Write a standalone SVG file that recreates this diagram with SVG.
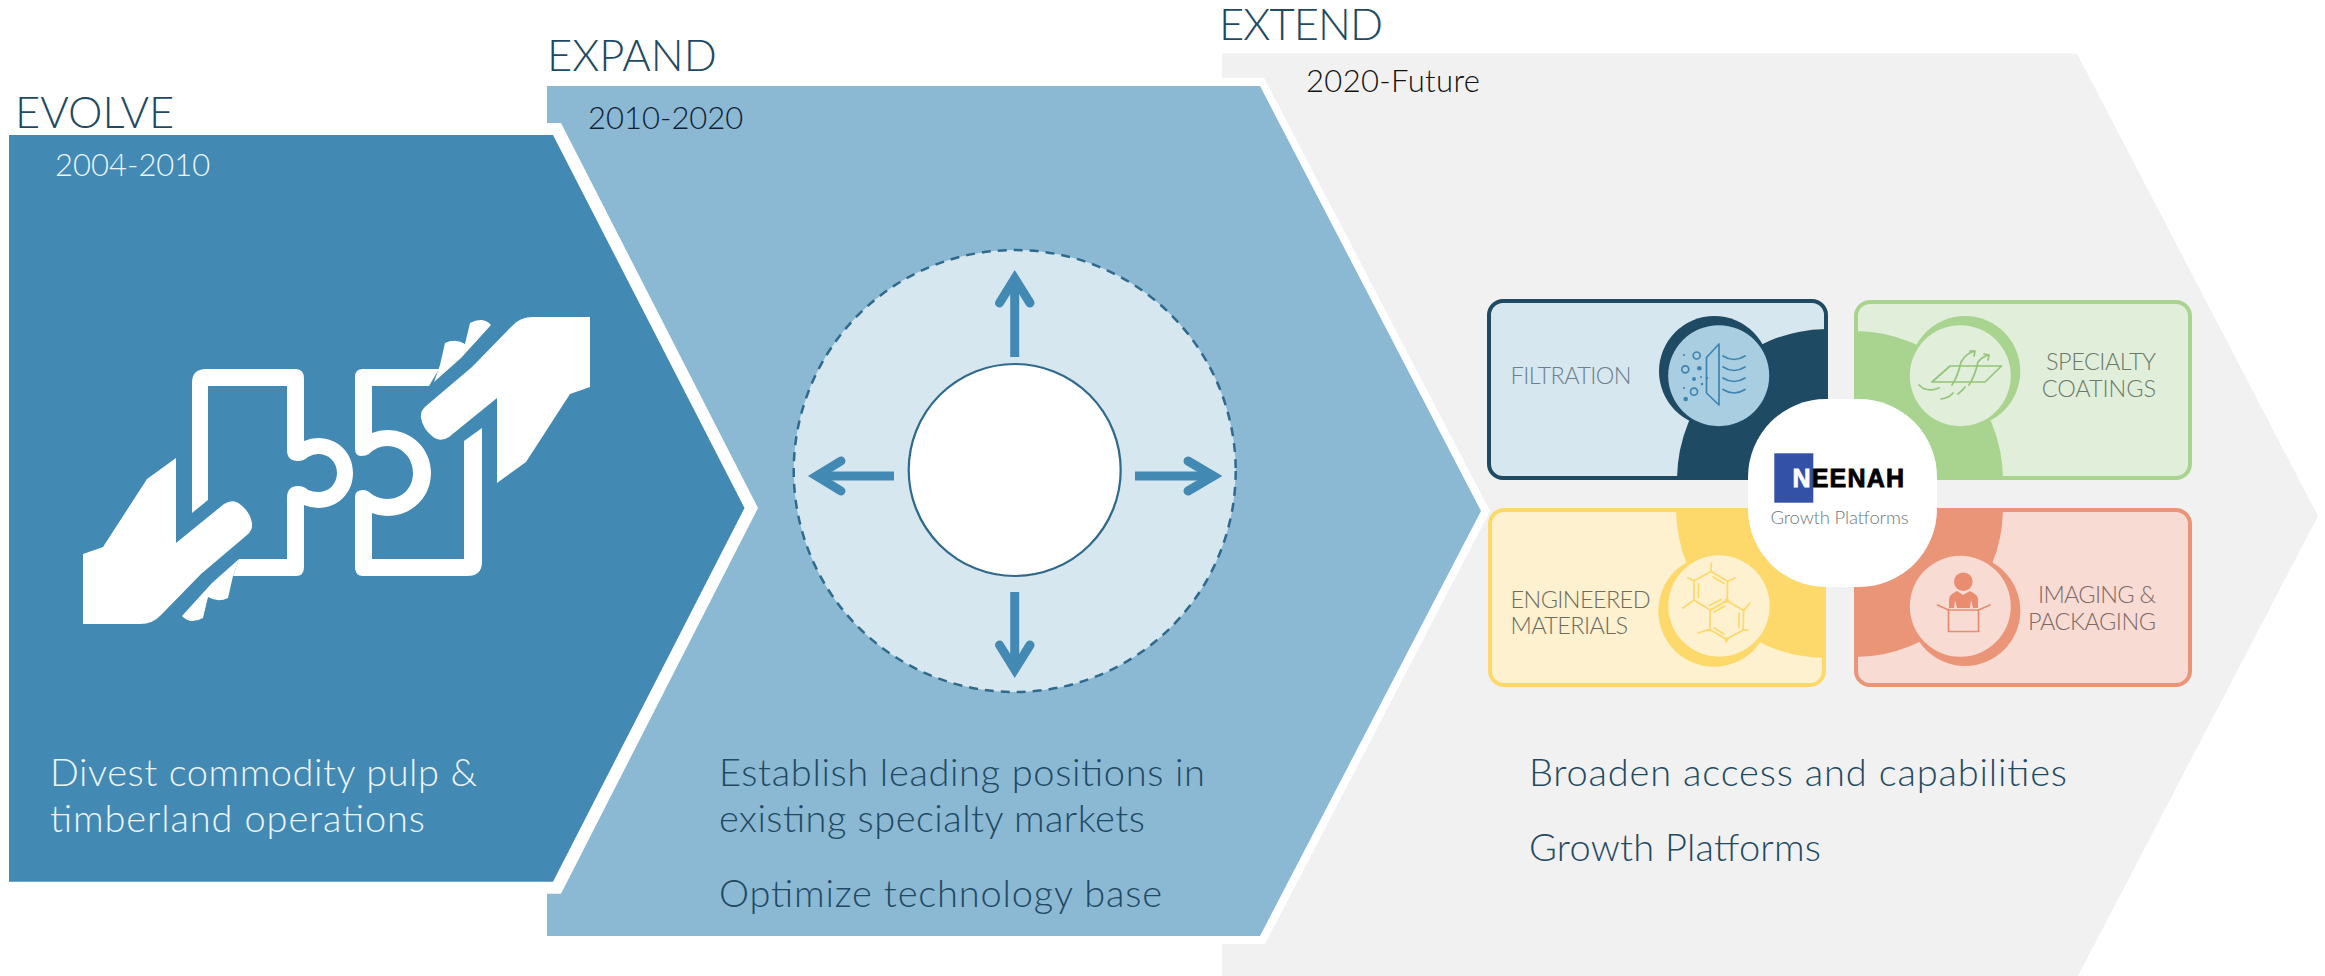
<svg xmlns="http://www.w3.org/2000/svg" xmlns:xlink="http://www.w3.org/1999/xlink" width="2325" height="976" viewBox="0 0 2325 976">
<style>
text{font-family:"Lato","Liberation Sans",sans-serif;font-weight:300}
.head{font-size:43.5px;fill:#1f4a63}
.yr{font-size:31px}
.body{font-size:38px;fill:#1f4a63}
.lab{font-size:23.5px}
.arrow{fill:none;stroke:#4289b4;stroke-width:9}
.chev{fill:none;stroke:#4289b4;stroke-width:9;stroke-linecap:round;stroke-miterlimit:6}
.ic{fill:none;stroke-width:1.7;stroke-linecap:round;stroke-linejoin:round}
</style>
<defs>
<clipPath id="cf"><rect x="1489" y="301" width="337" height="177" rx="14"/></clipPath>
<clipPath id="cs"><rect x="1856" y="302" width="334" height="176" rx="14"/></clipPath>
<clipPath id="cm"><rect x="1490" y="510" width="334" height="175" rx="14"/></clipPath>
<clipPath id="ci"><rect x="1856" y="510" width="334" height="175" rx="14"/></clipPath>
<g id="hand">
<path fill="#fff" d="M83 554L103 547L147 479L176 458V543L224 504Q233 498 241 505Q250 512 252 523Q253 530 247 535L201 574L161 615Q153 624 140 624H83Z"/>
<path fill="#fff" d="M182 616L212 583L239 559L233 576L228 598Q218 603 208 597L203 618Q190 625 182 616Z"/>
</g>
</defs>
<rect width="2325" height="976" fill="#fff"/>

<g id="extend">
<polygon points="1222,53.5 2077,53.5 2318,516 2078,976 1222,976" fill="#f1f1f1"/>
<text class="head" x="1219" y="40" textLength="164">EXTEND</text>
<text class="yr" x="1306" y="92" fill="#111" textLength="174">2020-Future</text>
<text class="body" x="1529" y="786" textLength="538">Broaden access and capabilities</text>
<text class="body" x="1529" y="861" textLength="292">Growth Platforms</text>
</g>

<g id="expand">
<polygon points="1222,77.7 1264,77.7 1490,511 1265,944 1222,944" fill="#fff"/>
<polygon points="547,86 1260,86 1481,511 1260,936 547,936" fill="#8bb8d3"/>
<text class="head" x="547" y="71">EXPAND</text>
<text class="yr" x="588" y="129" fill="#0f2233">2010-2020</text>
<text class="body" x="719" y="786" textLength="486">Establish leading positions in</text>
<text class="body" x="719" y="832" textLength="426">existing specialty markets</text>
<text class="body" x="719" y="907" textLength="443">Optimize technology base</text>
</g>

<g id="evolve">
<polygon points="540,123 561,123 758,508 561,893.7 540,893.7" fill="#fff"/>
<polygon points="9,135 553,135 744.5,508 553,881.7 9,881.7" fill="#4289b4"/>
<text class="head" x="15" y="128">EVOLVE</text>
<text class="yr" x="55" y="176" fill="#eef5f9">2004-2010</text>
<text class="body" x="50" y="786" style="fill:#eef5f9" textLength="427">Divest commodity pulp &amp;</text>
<text class="body" x="50" y="832" style="fill:#eef5f9" textLength="375">timberland operations</text>
</g>

<g id="puzzle-icon">
<use xlink:href="#hand" href="#hand"/>
<use xlink:href="#hand" href="#hand" transform="rotate(180 336.5 470.5)"/>
<path fill="#fff" d="M192 513V383Q192 369 206 369H296Q304 369 304 379V441Q311 438 318 438C338 438 353 453 353 473C353 493 338 508 318 508Q311 508 304 505V567Q304 576 296 576H233L239 559H287V498Q287 486 298 486Q304 486 308 490Q313 492 318 492C329 492 337 484 337 473C337 462 329 454 318 454Q313 454 308 457Q304 461 298 461Q287 461 287 450V386H208V500Z"/>
<path fill="#fff" d="M482 428V562Q482 576 467 576H363Q355 576 355 567V497Q355 490 363 490Q367 490 369 492Q377 499 387 499C402 499 413 488 413 473C413 458 402 446 387 446Q377 446 369 454Q366 456 361 456Q355 456 355 448V377Q355 369 363 369H439L429 386H372V433Q379 430 387 430C412 430 431 449 431 473C431 497 412 516 387 516Q379 516 372 513V559H464V441Z"/>
</g>

<g id="expand-circle">
<circle cx="1014.7" cy="471" r="221" fill="#d6e7f0" stroke="#2f6a8c" stroke-width="2.5" stroke-dasharray="9 7"/>
<circle cx="1014.7" cy="470" r="106" fill="#fff" stroke="#2f6a8c" stroke-width="2.2"/>
</g>

<g id="connectors">
<path class="arrow" d="M1014.7 357V280"/>
<polyline class="chev" points="999.5,303 1014.7,278.500 1030,303"/>
<path class="arrow" d="M1014.7 592V668"/>
<polyline class="chev" points="999.5,645 1014.7,669.500 1030,645"/>
<path class="arrow" d="M894 476H818"/>
<polyline class="chev" points="841,461 816.500,476 841,491"/>
<path class="arrow" d="M1135 476H1212"/>
<polyline class="chev" points="1188,461 1213.500,476 1188,491"/>
</g>

<g id="filtration">
<rect x="1489" y="301" width="337" height="177" rx="14" fill="#d6e7f0" stroke="#1f4a63" stroke-width="4"/>
<circle cx="1828" cy="480" r="151" fill="#1f4a63" clip-path="url(#cf)"/>
<circle cx="1714.300" cy="371.300" r="55.300" fill="#1f4a63"/>
<circle cx="1718.700" cy="375.700" r="50.500" fill="#a9cde1"/>
<g class="ic" stroke="#3d85b0">
<path d="M1706.500 357.500L1719 344V405L1706.500 393Z"/>
<path d="M1723 356Q1734 363 1745 356M1723 367Q1734 374 1745 367M1723 378Q1734 385 1745 378M1723 389.500Q1734 396.500 1745 389.500"/>
<circle cx="1696.700" cy="355.500" r="3.500"/>
<circle cx="1685.300" cy="369.300" r="3.500"/>
<circle cx="1694" cy="391.700" r="3.500"/>
</g>
<g fill="#3d85b0"><circle cx="1685.700" cy="399" r="2.300"/><circle cx="1699.300" cy="368.300" r="2.300"/><circle cx="1694" cy="379" r="2"/><circle cx="1702" cy="384" r="1.200"/><circle cx="1707" cy="378" r="1.200"/><circle cx="1701" cy="377" r="1"/><circle cx="1684" cy="355" r="1"/><circle cx="1684" cy="388" r="1"/></g>
<text class="lab" x="1510.500" y="384" fill="#6e7f8a" textLength="121">FILTRATION</text>
</g>

<g id="specialty-coatings">
<rect x="1856" y="302" width="334" height="176" rx="14" fill="#e0eeda" stroke="#a9d48f" stroke-width="4"/>
<circle cx="1854" cy="480" r="149" fill="#a9d48f" clip-path="url(#cs)"/>
<circle cx="1965" cy="371.300" r="55.300" fill="#a9d48f"/>
<circle cx="1960.300" cy="375.700" r="50.500" fill="#e0eeda"/>
<g class="ic" stroke="#93c47a" stroke-width="1.400">
<path d="M1932 382L1950 366H2001.500L1985 382Z"/>
<path d="M1952 385Q1958 376 1961 362Q1966 353 1975 351M1970 351L1975 351L1974 356"/>
<path d="M1969 385Q1975 376 1978 362Q1983 356 1989 355M1984 354L1989 355L1988 360"/>
<path d="M1919 385Q1927 393 1939 388M1941 399Q1949 398 1953 393M1958 394Q1962 391 1965 387"/>
</g>
<text class="lab" x="2046" y="370" fill="#6d7a6a" textLength="110">SPECIALTY</text>
<text class="lab" x="2041.700" y="396.700" fill="#6d7a6a" textLength="114.300">COATINGS</text>
</g>

<g id="engineered-materials">
<rect x="1490" y="510" width="334" height="175" rx="14" fill="#fdf1cf" stroke="#fcd96a" stroke-width="4"/>
<circle cx="1826" cy="508" r="150" fill="#fcd96a" clip-path="url(#cm)"/>
<circle cx="1714" cy="611" r="55.700" fill="#fcd96a"/>
<circle cx="1719" cy="606" r="50.700" fill="#fdf1cf"/>
<g class="ic" stroke="#fcd96a">
<polygon points="1727.200,600.600 1710.400,610 1693.800,600.100 1694.200,580.800 1711,571.400 1727.600,581.300"/>
<polygon points="1743.200,629.900 1726.400,639.300 1709.800,629.400 1710.200,610.100 1727,600.700 1743.600,610.600"/>
<path d="M1711 571.400L1711.400 563M1727.600 581.300L1735 578M1694.200 580.800L1688 578M1693.800 600.100L1683 608M1743.600 610.600L1750 603M1743.200 629.900L1748 630M1726.400 639.300V642M1709.800 629.400L1698 633"/>
<path d="M1698.500 583.500V597.500M1713 577L1724 583.500M1721 599.500L1709.500 605.500M1739 613V627M1724 634L1714 628M1714 612L1725 606"/>
</g>
<g fill="#fcd96a"><circle cx="1727" cy="600.700" r="2.200"/><circle cx="1726.400" cy="639.300" r="2"/></g>
<text class="lab" x="1510.500" y="608" fill="#6f6c5e" textLength="140">ENGINEERED</text>
<text class="lab" x="1510.500" y="634" fill="#6f6c5e" textLength="117.500">MATERIALS</text>
</g>

<g id="imaging-packaging">
<rect x="1856" y="510" width="334" height="175" rx="14" fill="#f8dbd3" stroke="#ea9478" stroke-width="4"/>
<circle cx="1854" cy="508" r="149" fill="#ea9478" clip-path="url(#ci)"/>
<circle cx="1965" cy="610.700" r="55.300" fill="#ea9478"/>
<circle cx="1960.300" cy="606.300" r="50.500" fill="#f8dbd3"/>
<circle cx="1963.300" cy="581.700" r="9.300" fill="#e98c70"/>
<path fill="#e98c70" d="M1949 608V600Q1949 596 1952 594L1957 591L1963 595L1970 591L1975 594Q1978 596 1978 600V608L1973 608L1971 600L1970 608H1957L1955 600L1954 608Z"/>
<g class="ic" stroke="#e98c70"><rect x="1948.500" y="610" width="30" height="21.500"/><path d="M1937.500 605L1948.500 610M1990 605L1978.500 610"/></g>
<text class="lab" x="2038" y="602.700" fill="#7d6a66" textLength="118">IMAGING &amp;</text>
<text class="lab" x="2028" y="630" fill="#7d6a66" textLength="128">PACKAGING</text>
</g>

<g id="neenah-logo">
<rect x="1748" y="399" width="189" height="188" rx="78" fill="#fff"/>
<rect x="1774.300" y="453.300" width="39" height="49.400" fill="#3451a8"/>
<text x="1792.500" y="487.300" style="font-family:'Liberation Sans',sans-serif;font-weight:700;font-size:25px" stroke-width="0.8" textLength="111.500"><tspan fill="#fff" stroke="#fff">N</tspan><tspan fill="#000" stroke="#000">EENAH</tspan></text>
<text x="1770.500" y="524" style="font-size:18.500px" fill="#6f7a80" textLength="138">Growth Platforms</text>
</g>
</svg>
